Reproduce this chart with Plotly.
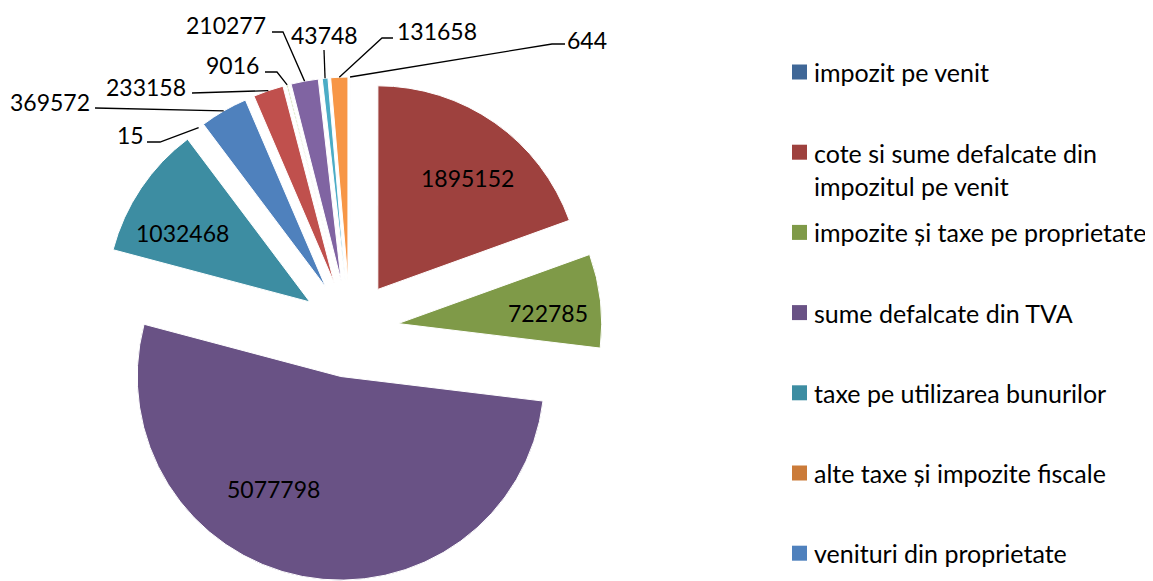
import math
import plotly.graph_objects as go

W, H = 1153, 581
OFF = 8  # default page body margin; reference pixel coords are converted with it

categories = [
    "impozit pe venit",
    "cote si sume defalcate din<br>impozitul pe venit",
    "impozite și taxe pe proprietate",
    "sume defalcate din TVA",
    "taxe pe utilizarea bunurilor",
    "alte taxe și impozite fiscale",
    "venituri din proprietate",
    "categoria 8",
    "categoria 9",
    "categoria 10",
    "categoria 11",
    "categoria 12",
]
values = [644, 1895152, 722785, 5077798, 1032468, 15, 369572, 233158, 9016, 210277, 43748, 131658]

base = ['#4F81BD', '#C0504D', '#9BBB59', '#8064A2', '#4BACC6', '#F79646']
dark = ['#3F6797', '#9E413E', '#7F9A48', '#695285', '#3D8DA2', '#CB7B39']
colors = dark + base

FONT = "Lato"
FS_NUM = 23
FS_LEG = 25
PULL = 0.2376


def px(x, y):
    """screen pixel -> paper fraction"""
    return (x - OFF) / W, 1 - (y - OFF) / H


# pie box in screen pixels: centre (350, 329), half size 252
bx0, by0 = px(98, 581)
bx1, by1 = px(602, 77)
dom_x = [bx0, bx1]
dom_y = [max(0.0, by0), by1]

total = sum(values)

fig = go.Figure()
fig.add_trace(go.Pie(
    labels=categories,
    values=values,
    sort=False,
    direction="clockwise",
    rotation=0,
    pull=[PULL] * len(values),
    marker=dict(colors=colors, line=dict(color="white", width=1)),
    textinfo="none",
    domain=dict(x=dom_x, y=dom_y),
    showlegend=False,
    hoverinfo="label+value",
))

# plotly pie geometry (margins 0), in screen pixels
cx = OFF + W * (dom_x[0] + dom_x[1]) / 2
cy = OFF + H * (1 - (dom_y[0] + dom_y[1]) / 2)
r = min(W * (dom_x[1] - dom_x[0]), H * (dom_y[1] - dom_y[0])) / (2 * (1 + PULL))


def outer_point(i):
    start = sum(values[:i]) / total * 360
    end = sum(values[:i + 1]) / total * 360
    mid = math.radians((start + end) / 2)
    dx, dy = math.sin(mid), -math.cos(mid)
    pcx, pcy = cx + dx * PULL * r, cy + dy * PULL * r
    return pcx + dx * r, pcy + dy * r


# label text centres (screen px)
inside_pos = {1: (467, 178), 2: (548, 313), 3: (273, 489), 4: (182, 233)}
outside = {
    0: ((587, 40), [(565, 44), (552, 44)]),
    11: ((437, 31), [(393, 38), (382, 38)]),
    10: ((324, 35), [(324, 50)]),
    9: ((226, 25), [(272, 32), (283, 32)]),
    8: ((232, 65), [(265, 72), (277, 72)]),
    7: ((146, 87), [(192, 93)]),
    6: ((50, 102), [(95, 108)]),
    5: ((130, 135), [(147, 142), (160, 142)]),
}

shapes = []
annotations = []


def num_label(i, pos):
    ax_, ay_ = px(*pos)
    annotations.append(dict(x=ax_, y=ay_, xref="paper", yref="paper", text=str(values[i]),
                            showarrow=False, xanchor="center", yanchor="middle",
                            font=dict(family=FONT, size=FS_NUM, color="black")))


for i, pos in inside_pos.items():
    num_label(i, pos)

for i, (tc, pts) in outside.items():
    tx, ty = outer_point(i)
    allpts = pts + [(tx, ty)]
    path = ""
    for k, (a, b) in enumerate(allpts):
        pxx, pyy = px(a, b)
        path += ("M" if k == 0 else " L") + f" {pxx:.5f} {pyy:.5f}"
    shapes.append(dict(type="path", path=path, xref="paper", yref="paper",
                       line=dict(color="black", width=1.3)))
    num_label(i, tc)

# legend (visible part)
leg_x0 = 792
leg_y0 = 72
leg_step = 80.2
sq = 15
for i in range(7):
    yc = leg_y0 + i * leg_step
    x0p, y0p = px(leg_x0, yc - sq / 2)
    x1p, y1p = px(leg_x0 + sq, yc + sq / 2)
    shapes.append(dict(type="rect", xref="paper", yref="paper", x0=x0p, x1=x1p, y0=y1p, y1=y0p,
                       fillcolor=colors[i], line=dict(width=0)))
    lines = categories[i].count("<br>") + 1
    if lines == 1:
        axp, ayp = px(leg_x0 + sq + 5, yc)
        yanchor = "middle"
    else:
        axp, ayp = px(leg_x0 + sq + 5, yc - 16)
        yanchor = "top"
    annotations.append(dict(x=axp, y=ayp, xref="paper", yref="paper", text=categories[i],
                            showarrow=False, xanchor="left", yanchor=yanchor, align="left",
                            font=dict(family=FONT, size=FS_LEG, color="black")))

fig.update_layout(
    width=W, height=H,
    margin=dict(l=0, r=0, t=0, b=0),
    paper_bgcolor="white", plot_bgcolor="white",
    shapes=shapes, annotations=annotations,
    font=dict(family=FONT),
)
fig.write_html("out.html")
